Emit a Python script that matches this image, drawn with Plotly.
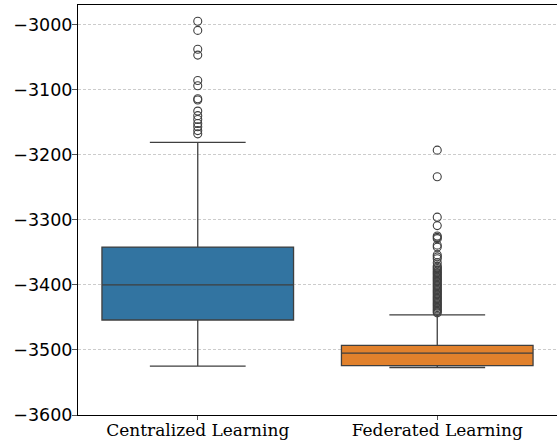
import plotly.graph_objects as go

categories = ["Centralized Learning", "Federated Learning"]
colors = ["#3274a1", "#e1812c"]

# box statistics
q1 = [-3454, -3524]
median = [-3400, -3505]
q3 = [-3342, -3493]
lower_fence = [-3525, -3527]
upper_fence = [-3181, -3446]

# outliers
central_outliers = [-2995, -3009, -3038, -3047, -3086, -3094, -3114, -3116,
                    -3133, -3140, -3146, -3152, -3157, -3163, -3168]
federated_outliers = [-3193, -3234, -3296, -3309, -3325, -3327, -3329,
                      -3339, -3342, -3354, -3357, -3360, -3366, -3371,
                      -3373, -3375, -3377, -3379, -3381, -3383, -3385,
                      -3387, -3389, -3391, -3393, -3395, -3397, -3399,
                      -3401, -3403, -3405, -3407, -3409, -3411, -3413,
                      -3415, -3417, -3419, -3421, -3423, -3425, -3427,
                      -3429, -3431, -3433, -3435, -3437, -3439, -3441,
                      -3443]
outliers = [central_outliers, federated_outliers]

ytick_vals = [-3600, -3500, -3400, -3300, -3200, -3100, -3000]
ytick_text = ["\u22123600", "\u22123500", "\u22123400", "\u22123300",
              "\u22123200", "\u22123100", "\u22123000"]

line_col = "#3f3f3f"
fig = go.Figure()
for i, cat in enumerate(categories):
    fig.add_trace(go.Box(
        x=[i], q1=[q1[i]], median=[median[i]], q3=[q3[i]],
        lowerfence=[lower_fence[i]], upperfence=[upper_fence[i]],
        width=0.8, whiskerwidth=0.5, fillcolor=colors[i],
        line=dict(color=line_col, width=1.3), boxpoints=False,
        name=cat, showlegend=False, hoverinfo="skip"))
    fig.add_trace(go.Scatter(
        x=[i] * len(outliers[i]), y=outliers[i], mode="markers",
        marker=dict(symbol="circle-open", size=8,
                    color=line_col, line=dict(width=1.1, color=line_col)),
        showlegend=False, hoverinfo="skip"))

fig.update_layout(
    width=558, height=442,
    margin=dict(l=78, r=1, t=5, b=27),
    plot_bgcolor="white", paper_bgcolor="white",
    font=dict(family="DejaVu Serif", size=17, color="black"),
    xaxis=dict(range=[-0.5, 1.5], tickvals=[0, 1], ticktext=categories,
               tickfont=dict(family="DejaVu Serif", size=17),
               ticklabelstandoff=-4,
               showgrid=False, zeroline=False, ticks="outside", ticklen=4,
               tickcolor="#555555", showline=True, linecolor="black",
               linewidth=1, mirror=True, automargin=False),
    yaxis=dict(range=[-3600, -2970], tickvals=ytick_vals, ticktext=ytick_text,
               tickfont=dict(family="DejaVu Sans", size=17.5),
               ticklabelstandoff=-4,
               showgrid=True, gridcolor="#cccccc", griddash="3px,2px",
               gridwidth=1, zeroline=False, ticks="outside", ticklen=5,
               tickcolor="#555555", showline=True, linecolor="black",
               linewidth=1, automargin=False),
)

fig.write_html("out.html", config={"displayModeBar": False},
               post_script="document.body.style.margin='0';document.body.style.padding='0';")
